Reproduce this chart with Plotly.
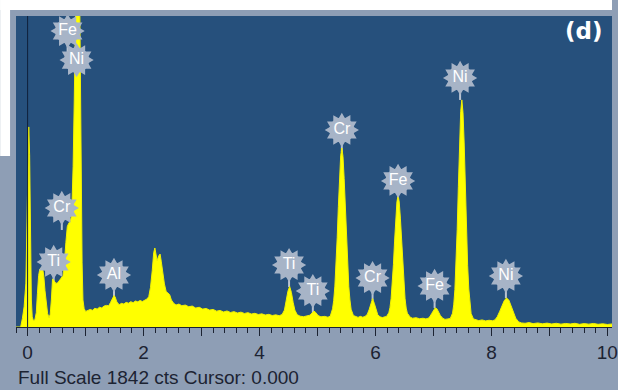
import plotly.graph_objects as go

# ---------------- data ----------------
energy_kev = [
    -0.20, -0.12, -0.09, -0.06, -0.03, -0.01, 0.005, 0.02, 0.035, 0.05, 0.065, 0.08, 0.10, 0.125,
    0.15, 0.17, 0.19, 0.21, 0.235, 0.26, 0.28, 0.30, 0.32, 0.345, 0.37, 0.39, 0.41, 0.43,
    0.46, 0.49, 0.52, 0.55, 0.58, 0.61, 0.635, 0.66, 0.685, 0.71, 0.735, 0.76, 0.785, 0.805,
    0.825, 0.845, 0.87, 0.895, 0.91, 0.925, 0.94, 0.955, 0.975, 1.00, 1.04, 1.08, 1.12, 1.16,
    1.20, 1.24, 1.28, 1.32, 1.36, 1.40, 1.43, 1.46, 1.49, 1.51, 1.54, 1.58, 1.62, 1.66,
    1.70, 1.74, 1.78, 1.82, 1.86, 1.90, 1.94, 1.98, 2.02, 2.06, 2.09, 2.12, 2.15, 2.175,
    2.195, 2.215, 2.235, 2.26, 2.285, 2.305, 2.33, 2.36, 2.39, 2.42, 2.45, 2.48, 2.52, 2.56,
    2.61, 2.66, 2.72, 2.78, 2.84, 2.90, 2.96, 3.02, 3.08, 3.14, 3.20, 3.26, 3.32, 3.38,
    3.44, 3.50, 3.56, 3.62, 3.68, 3.74, 3.80, 3.86, 3.92, 3.98, 4.04, 4.10, 4.16, 4.22,
    4.28, 4.34, 4.39, 4.43, 4.46, 4.49, 4.52, 4.55, 4.58, 4.61, 4.65, 4.70, 4.76, 4.82,
    4.87, 4.91, 4.94, 4.97, 5.01, 5.06, 5.12, 5.18, 5.22, 5.26, 5.28, 5.30, 5.32, 5.34,
    5.36, 5.38, 5.40, 5.42, 5.44, 5.46, 5.48, 5.50, 5.52, 5.54, 5.56, 5.58, 5.62, 5.66,
    5.70, 5.74, 5.78, 5.82, 5.86, 5.89, 5.92, 5.95, 5.98, 6.01, 6.04, 6.08, 6.12, 6.16,
    6.19, 6.23, 6.25, 6.27, 6.29, 6.31, 6.33, 6.35, 6.37, 6.39, 6.41, 6.43, 6.45, 6.47,
    6.49, 6.51, 6.53, 6.55, 6.60, 6.64, 6.70, 6.76, 6.82, 6.87, 6.91, 6.94, 6.97, 7.00,
    7.03, 7.06, 7.09, 7.12, 7.16, 7.20, 7.25, 7.29, 7.33, 7.35, 7.37, 7.39, 7.41, 7.43,
    7.45, 7.47, 7.49, 7.51, 7.53, 7.55, 7.57, 7.59, 7.61, 7.63, 7.65, 7.69, 7.73, 7.78,
    7.84, 7.90, 7.96, 8.02, 8.06, 8.10, 8.14, 8.18, 8.22, 8.26, 8.30, 8.34, 8.38, 8.42,
    8.47, 8.52, 8.58, 8.65, 8.72, 8.80, 8.88, 8.96, 9.04, 9.12, 9.20, 9.28, 9.36, 9.44,
    9.52, 9.60, 9.68, 9.76, 9.84, 9.92, 10.00, 10.08,
]
counts = [
    0, 0, 50, 120, 260, 600, 1000, 1185, 1020, 520, 160, 60, 38, 42,
    85, 200, 305, 342, 352, 346, 300, 215, 140, 80, 55, 75, 160, 285,
    272, 258, 262, 280, 290, 305, 380, 500, 595, 615, 625, 660, 950, 1350,
    1750, 2200, 2800, 2100, 1400, 850, 380, 160, 110, 92, 96, 104, 99, 111,
    106, 117, 113, 124, 128, 126, 145, 170, 186, 178, 148, 132, 140, 136,
    146, 141, 150, 144, 154, 149, 157, 151, 160, 166, 180, 235, 335, 440,
    468, 420, 392, 420, 432, 390, 320, 255, 210, 198, 192, 160, 140, 130,
    136, 126, 130, 120, 124, 112, 117, 106, 110, 100, 104, 94, 98, 89,
    95, 86, 91, 83, 88, 80, 85, 77, 81, 74, 78, 71, 75, 68,
    72, 67, 74, 100, 150, 212, 240, 205, 146, 100, 73, 64, 61, 66,
    70, 84, 94, 86, 68, 60, 63, 58, 64, 108, 158, 242, 366, 529,
    713, 888, 1014, 1060, 1010, 880, 715, 525, 370, 240, 160, 105, 68, 62,
    57, 63, 58, 62, 76, 102, 142, 168, 140, 100, 72, 60, 56, 60,
    62, 84, 114, 169, 254, 371, 509, 643, 741, 778, 740, 645, 505, 372,
    252, 170, 112, 82, 58, 52, 55, 49, 52, 48, 52, 62, 80, 100,
    113, 108, 88, 68, 52, 45, 48, 50, 82, 131, 221, 369, 579, 834,
    1086, 1275, 1345, 1270, 1090, 830, 580, 365, 225, 128, 80, 48, 42, 38,
    42, 36, 40, 37, 42, 60, 90, 125, 155, 172, 160, 125, 85, 52,
    30, 24, 22, 26, 20, 24, 19, 23, 18, 22, 17, 21, 18, 22,
    16, 20, 17, 21, 16, 19, 15, 18,
]

# element peak labels
label_names = ["Fe", "Ni", "Cr", "Ti", "Al", "Ti", "Ti", "Cr", "Cr", "Fe", "Fe", "Ni", "Ni"]
label_kev = [0.69, 0.845, 0.59, 0.45, 1.49, 4.51, 4.92, 5.42, 5.95, 6.39, 7.02, 7.46, 8.25]
label_cts = [1753, 1581, 705, 385, 308, 367, 213, 1167, 290, 865, 243, 1475, 302]

full_scale_cts = 1842
cursor_kev = 0.0
x_tick_vals = [0, 1, 2, 3, 4, 5, 6, 7, 8, 9, 10]
x_tick_text = ["0", "", "2", "", "4", "", "6", "", "8", "", "10"]
panel_tag = "(d)"

# ---------------- figure ----------------
W, H = 618, 390
ML, MR, MT, MB = 16, 0, 16, 63
PW, PH = W - ML - MR, H - MT - MB

BLUE = "#26507c"
FRAME = "#8e9eb5"
YELLOW = "#ffff00"
BUBBLE = "#a7b4c7"
DARK = "#1c2332"

stem_len = 22 * full_scale_cts / PH  # in counts

fig = go.Figure()

# stems (drawn under the spectrum)
sx, sy = [], []
for e, c in zip(label_kev, label_cts):
    sx += [e, e, None]
    sy += [c, c - stem_len, None]
fig.add_trace(go.Scatter(x=sx, y=sy, mode="lines",
                         line=dict(color="#b9c3d1", width=2),
                         hoverinfo="skip", showlegend=False))

# spectrum
fig.add_trace(go.Scatter(x=energy_kev, y=counts, mode="lines",
                         line=dict(color="#f2f200", width=1),
                         fill="tozeroy", fillcolor=YELLOW,
                         hoverinfo="skip", showlegend=False))

# scalloped bubble edges
for ang in (0, 30):
    fig.add_trace(go.Scatter(x=label_kev, y=label_cts, mode="markers",
                             marker=dict(symbol="hexagram", size=26, color=BUBBLE,
                                         angle=ang, line=dict(width=0)),
                             hoverinfo="skip", showlegend=False))
# bubbles with element names
fig.add_trace(go.Scatter(x=label_kev, y=label_cts, mode="markers+text",
                         text=label_names, textposition="middle center",
                         textfont=dict(family="Liberation Sans, Arial, sans-serif",
                                       size=16, color="#ffffff"),
                         marker=dict(symbol="circle", size=25, color=BUBBLE,
                                     line=dict(width=0)),
                         hoverinfo="skip", showlegend=False))

shapes = [
    # white strips at top / left of the frame
    dict(type="rect", xref="paper", yref="paper",
         x0=-ML / PW, x1=1.0, y0=1 + 6 / PH, y1=1 + MT / PH,
         fillcolor="#ffffff", line=dict(width=0), layer="below"),
    dict(type="rect", xref="paper", yref="paper",
         x0=-ML / PW, x1=-6 / PW, y0=1 - 140 / PH, y1=1 + MT / PH,
         fillcolor="#ffffff", line=dict(width=0), layer="below"),
    # cursor
    dict(type="line", xref="x", yref="paper", x0=cursor_kev, x1=cursor_kev,
         y0=0, y1=1, line=dict(color="#10203a", width=1), layer="above"),
]

annotations = [
    dict(text=f"Full Scale {full_scale_cts} cts Cursor: {cursor_kev:.3f}",
         xref="paper", yref="paper", x=0.0, y=-50 / PH,
         xanchor="left", yanchor="middle", showarrow=False,
         font=dict(family="Liberation Sans, Arial, sans-serif", size=19, color=DARK)),
    dict(text=f"<b>{panel_tag}</b>", xref="paper", yref="paper",
         x=(590 - ML) / PW, y=1 - (31 - MT) / PH, xanchor="center", yanchor="middle",
         showarrow=False,
         font=dict(family="DejaVu Sans, sans-serif", size=23, color="#ffffff")),
]

fig.update_layout(
    width=W, height=H,
    margin=dict(l=ML, r=MR, t=MT, b=MB, pad=0),
    paper_bgcolor=FRAME, plot_bgcolor=BLUE,
    shapes=shapes, annotations=annotations,
    showlegend=False,
    xaxis=dict(range=[-0.2, 10.08], tickmode="array",
               tickvals=x_tick_vals, ticktext=x_tick_text,
               ticks="outside", ticklen=8, tickwidth=1, tickcolor=DARK,
               showline=True, linecolor=DARK, linewidth=1,
               showgrid=False, zeroline=False, ticklabeloverflow="allow",
               tickfont=dict(family="Liberation Sans, Arial, sans-serif", size=19, color=DARK),
               minor=dict(ticks="outside", ticklen=5, tickwidth=1, tickcolor=DARK,
                          tick0=0, dtick=0.2, showgrid=False),
               fixedrange=True),
    yaxis=dict(range=[0, full_scale_cts], visible=False, fixedrange=True),
)

fig.write_html(
    "out.html",
    config={"displayModeBar": False, "staticPlot": True},
    post_script="document.body.style.margin='0';document.body.style.overflow='hidden';",
)
